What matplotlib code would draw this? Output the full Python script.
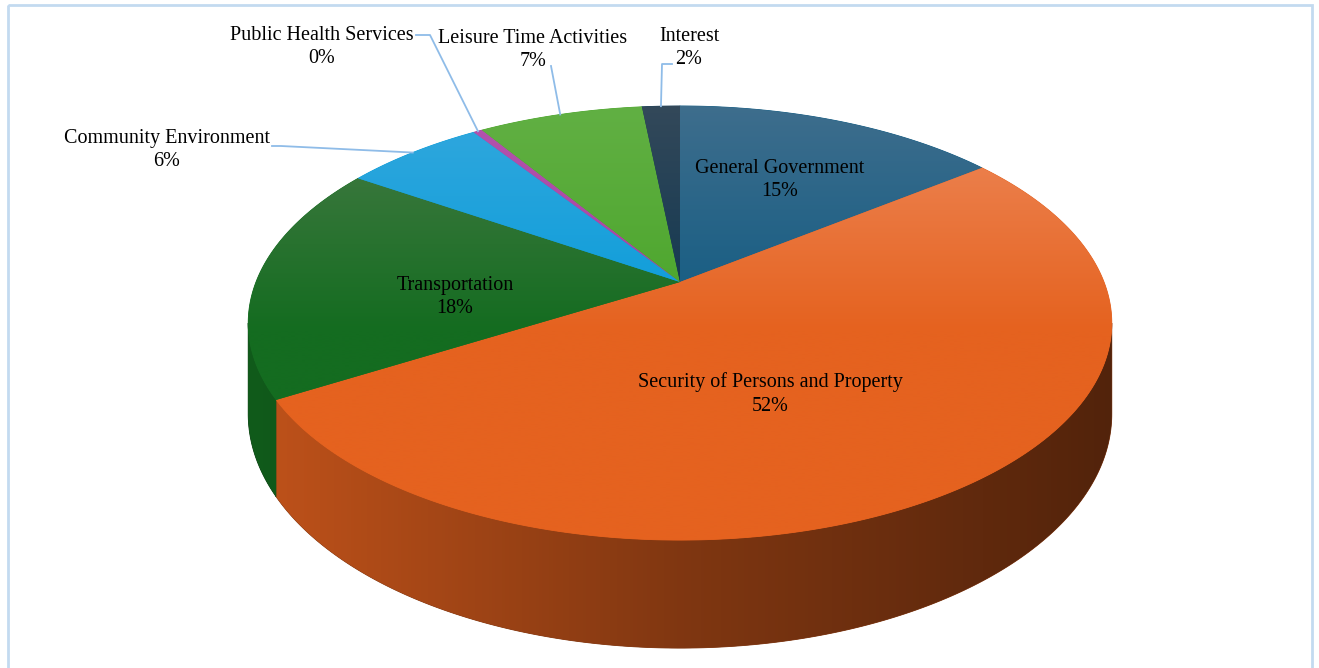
import numpy as np
import matplotlib
matplotlib.use('Agg')
import matplotlib.pyplot as plt
from matplotlib.patches import Polygon, Rectangle
from matplotlib.colors import LinearSegmentedColormap, to_rgb

# 数据 (顺时针, 从12点方向开始)
categories = ['General Government', 'Security of Persons and Property', 'Transportation',
              'Community Environment', 'Public Health Services', 'Leisure Time Activities', 'Interest']
values = [14.6, 51.9, 17.7, 6.3, 0.4, 7.4, 1.7]
base_colors = ['#115B82', '#E5621F', '#146C20', '#0A9CD9', '#A63FA0', '#4AA52A', '#0E3650']
light_colors = ['#3F6E8D', '#EE8A5C', '#497C48', '#33A8DE', '#B455AE', '#62B044', '#34495A']

# 标签位置 (像素, 文本中心) 和 引线起点 (None 表示标签在扇形内)
label_xy = [(780, 180), (770, 394), (455, 297), (167, 150), (322, 47), (533, 50), (689, 48)]
leader_start = [None, None, None, [(272, 146), (281, 146)], [(416, 35), (430, 35)],
                [(551, 66)], [(672, 64), (662, 64)]]

# 透视投影参数
CX, CY = 680, 282
A, B, C = 424, 209.3, 0.189
DEPTH = 87.6
W, H = 1319, 668

fig = plt.figure(figsize=(W / 100, H / 100), dpi=100)
ax = fig.add_axes([0, 0, 1, 1])
ax.axis('off')


def project(phi, drop=0.0):
    r = np.radians(phi)
    u, v = np.sin(r), np.cos(r)
    w = 1 + C * v
    return CX + A * u / w, CY - B * v / w + drop / w


def shade(color, f):
    return tuple(np.clip(np.array(to_rgb(color)) * f, 0, 1))


def fill_gradient(xs, ys, colors, extent, horizontal, zorder):
    verts = np.column_stack([xs, ys])
    ax.add_patch(Polygon(verts, closed=True, facecolor=colors[len(colors) // 2],
                         edgecolor=colors[len(colors) // 2], lw=0.6, zorder=zorder))
    clip = Polygon(verts, closed=True, facecolor='none', edgecolor='none')
    ax.add_patch(clip)
    cmap = LinearSegmentedColormap.from_list('g', colors)
    grad = np.linspace(0, 1, 256)
    img = grad[None, :] if horizontal else grad[:, None]
    im = ax.imshow(img, cmap=cmap, extent=extent, origin='upper', aspect='auto',
                   interpolation='bilinear', zorder=zorder + 0.1)
    im.set_clip_path(clip)


total = sum(values)
bounds = np.concatenate([[0], np.cumsum(values)]) / total * 360
vis_lo = 90 + np.degrees(np.arcsin(C))
vis_hi = 270 - np.degrees(np.arcsin(C))
x_left, x_right = CX - A * 1.02, CX + A * 1.02

# 侧面
for i in range(len(values)):
    lo, hi = max(bounds[i], vis_lo), min(bounds[i + 1], vis_hi)
    if hi <= lo:
        continue
    ph = np.linspace(lo, hi, 200)
    tx, ty = project(ph)
    bx, by = project(ph[::-1], DEPTH)
    xs, ys = np.concatenate([tx, bx]), np.concatenate([ty, by])
    fill_gradient(xs, ys, [shade(base_colors[i], 0.84), shade(base_colors[i], 0.56),
                           shade(base_colors[i], 0.36)],
                  (x_left, x_right, 700, 0), True, 1)

# 顶面
for i in range(len(values)):
    ph = np.linspace(bounds[i], bounds[i + 1], max(3, int(values[i] * 8)))
    tx, ty = project(ph)
    xs, ys = np.concatenate([[CX], tx]), np.concatenate([[CY], ty])
    fill_gradient(xs, ys, [light_colors[i], base_colors[i], base_colors[i]],
                  (x_left, x_right, 560, 100), False, 3)

# 标签与引线
for i, name in enumerate(categories):
    pct = '%d%%' % round(values[i] / total * 100)
    ax.text(label_xy[i][0], label_xy[i][1], name + '\n' + pct, ha='center', va='center',
            fontsize=14.5, family='Liberation Serif', linespacing=1.3, zorder=6)
    if leader_start[i] is not None:
        mx, my = project((bounds[i] + bounds[i + 1]) / 2)
        pts = leader_start[i] + [(mx, my)]
        ax.plot([p[0] for p in pts], [p[1] for p in pts], color='#8FBCE8', lw=1.3, zorder=5)

ax.add_patch(Rectangle((8, 5), W - 15, H + 10, fill=False, edgecolor='#C3DAF0', lw=2, zorder=7))

ax.set_xlim(0, W)
ax.set_ylim(H, 0)
fig.savefig('out.png', dpi=100)
